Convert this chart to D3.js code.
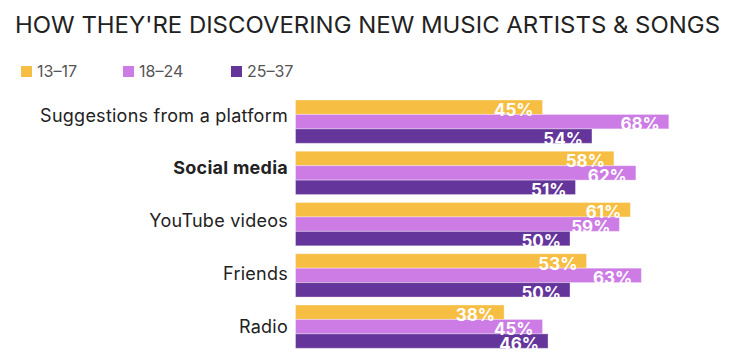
<!DOCTYPE html>
<html>
<head>
<meta charset="utf-8">
<script src="https://cdn.jsdelivr.net/npm/d3@7"></script>
<style>
  html, body { margin: 0; padding: 0; background: #fff; }
  svg { display: block; font-family: Inter, 'Open Sans', sans-serif; }
</style>
</head>
<body>
<div id="chart"></div>
<script>
const categories = ['Suggestions from a platform', 'Social media', 'YouTube videos', 'Friends', 'Radio']
const series = ['13-17', '18-24', '25-37']
const teens = [45, 58, 61, 53, 38]
const youngAdults = [68, 62, 59, 63, 45]
const adults = [54, 51, 50, 50, 46]
const colors = ['#f6be42', '#cc7ce4', '#64359a']

const values = [teens, youngAdults, adults]
const data = categories.flatMap((c, i) => series.map((s, j) => ({ category: c, group: s, value: values[j][i], idx: j })))

const width = 750
const height = 355

const svg = d3.select('#chart')
  .append('svg')
  .attr('width', width)
  .attr('height', height)

svg.append('rect').attr('width', width).attr('height', height).attr('fill', '#fff')

// title
svg.append('text')
  .attr('x', 15)
  .attr('y', 33)
  .attr('font-size', 23)
  .attr('font-weight', 400)
  .attr('fill', '#222')
  .attr('textLength', 705)
  .attr('lengthAdjust', 'spacingAndGlyphs')
  .text("HOW THEY'RE DISCOVERING NEW MUSIC ARTISTS & SONGS")

// legend
const legendX = [21, 123, 231]
const legend = svg.append('g')
  .selectAll('g')
  .data(series)
  .join('g')
  .attr('transform', (d, i) => `translate(${legendX[i]},66)`)

legend.append('rect')
  .attr('width', 11)
  .attr('height', 11)
  .attr('fill', (d, i) => colors[i])

legend.append('text')
  .attr('x', 16)
  .attr('y', 10.5)
  .attr('font-size', 16)
  .attr('fill', '#555')
  .text(d => d.replace('-', '–'))

const x = d3.scaleLinear()
  .domain([0, 100])
  .range([295.5, 844.5])

const y = d3.scaleBand()
  .domain(categories)
  .range([100, 348.3])
  .paddingInner(0.155)
  .paddingOuter(0)

const ySub = d3.scaleBand()
  .domain(series)
  .range([0, y.bandwidth()])

const labelY = d3.scalePoint()
  .domain(categories)
  .range([121.5, 333])

// category labels
svg.append('g')
  .selectAll('text')
  .data(categories)
  .join('text')
  .attr('x', 288)
  .attr('y', d => labelY(d))
  .attr('text-anchor', 'end')
  .attr('font-size', 18)
  .attr('letter-spacing', 0.25)
  .attr('font-weight', d => d === 'Social media' ? 700 : 400)
  .attr('fill', '#222')
  .text(d => d)

// bars
svg.append('g')
  .selectAll('rect')
  .data(data)
  .join('rect')
  .attr('x', x(0))
  .attr('y', d => y(d.category) + ySub(d.group))
  .attr('width', d => x(d.value) - x(0))
  .attr('height', ySub.bandwidth())
  .attr('fill', d => colors[d.idx])
  .attr('stroke', 'rgba(255,255,255,0.35)')
  .attr('stroke-width', 1)

// value labels
svg.append('g')
  .selectAll('text')
  .data(data)
  .join('text')
  .attr('x', d => x(d.value) - 9)
  .attr('y', d => y(d.category) + ySub(d.group) + ySub.bandwidth() + 1.5)
  .attr('text-anchor', 'end')
  .attr('font-size', 17)
  .attr('font-weight', 700)
  .attr('fill', '#fff')
  .text(d => d.value + '%')
</script>
</body>
</html>
